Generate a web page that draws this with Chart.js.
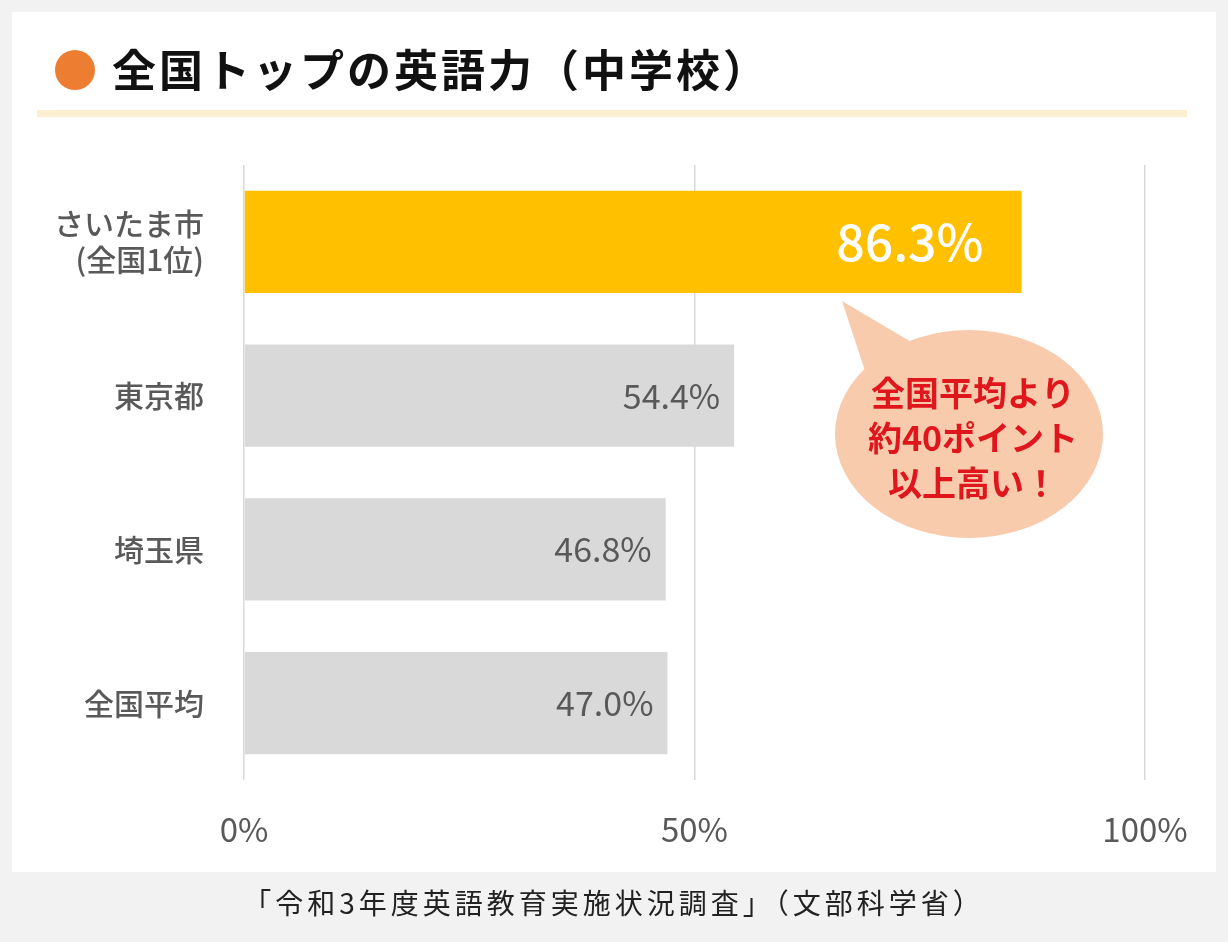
<!DOCTYPE html>
<html><head><meta charset="utf-8">
<script src="https://cdn.jsdelivr.net/npm/chart.js@4"></script>
<style>html,body{margin:0;padding:0;background:#f2f2f2}#w{width:1228px;height:942px}</style>
</head><body><div id="w"><canvas id="c" width="1228" height="942"></canvas></div>
<script>
const categories = [["さいたま市","(全国1位)"],"東京都","埼玉県","全国平均"];
const values = [86.3, 54.4, 46.8, 47.0];
const valueLabels = ["86.3%","54.4%","46.8%","47.0%"];
const xTicks = [0, 50, 100];
const barColors = ["#ffc000","#d9d9d9","#d9d9d9","#d9d9d9"];
const titleText = "全国トップの英語力（中学校）";
const captionText = "「令和3年度英語教育実施状況調査」（文部科学省）";
const bubbleLines = ["全国平均より","約40ポイント","以上高い！"];
const F = '"Noto Sans CJK JP","Noto Sans",sans-serif';

const deco = {
  id:'deco',
  beforeDraw(ch){
    const c = ch.ctx; c.save();
    c.fillStyle='#f2f2f2'; c.fillRect(0,0,1228,942);
    c.fillStyle='#fff'; c.fillRect(12,12,1204,860);
    c.fillStyle='#ed7d31'; c.beginPath(); c.arc(75,70,20,0,Math.PI*2); c.fill();
    c.fillStyle='#111'; c.font='bold 44px '+F; c.textBaseline='middle'; c.textAlign='left';
    c.letterSpacing='3px';
    c.fillText(titleText,112,70);
    c.fillStyle='#fbefcf'; c.fillRect(37,110,1150,7);
    c.fillStyle='#222'; c.font='28px '+F; c.textAlign='center'; c.letterSpacing='4px';
    c.fillText(captionText,614,903);
    c.restore();
  },
  afterDatasetsDraw(ch){
    const c = ch.ctx, meta = ch.getDatasetMeta(0); c.save();
    c.textAlign='right'; c.textBaseline='middle';
    meta.data.forEach((b,i)=>{
      if(i===0){c.fillStyle='#fff'; c.font='500 50px '+F; c.fillText(valueLabels[i], b.x-38, b.y);}
      else {c.fillStyle='#595959'; c.font='34px '+F; c.fillText(valueLabels[i], b.x-14, b.y);}
    });
    c.fillStyle='#f8cbad';
    c.beginPath(); c.ellipse(969,434,134,104,0,0,Math.PI*2); c.fill();
    c.beginPath(); c.moveTo(842,301); c.lineTo(918,346); c.lineTo(872,392); c.closePath(); c.fill();
    c.fillStyle='#e0161d'; c.font='bold 34px '+F; c.textAlign='center';
    bubbleLines.forEach((t,i)=>c.fillText(t,973,393+i*45));
    c.restore();
  }
};

new Chart(document.getElementById('c'),{
  type:'bar',
  data:{labels:categories,datasets:[{data:values,backgroundColor:barColors,barPercentage:0.665,categoryPercentage:1}]},
  options:{
    indexAxis:'y',responsive:false,animation:false,
    layout:{padding:{left:0,top:165,right:83,bottom:92}},
    plugins:{legend:{display:false},tooltip:{enabled:false}},
    scales:{
      x:{min:0,max:100,afterBuildTicks(a){a.ticks=xTicks.map(v=>({value:v}));},
        afterFit(a){a.height=70;},
        grid:{color:'#d9d9d9',lineWidth:1.5,drawTicks:false},border:{display:false},
        ticks:{padding:30,color:'#595959',font:{size:33,family:F},callback:v=>v+'%'}},
      y:{afterFit(a){a.width=244;},grid:{display:false},border:{display:false},
        ticks:{padding:32,color:'#595959',font:{size:30,family:F,weight:'500'}}}
    }
  },
  plugins:[deco]
});
</script></body></html>
